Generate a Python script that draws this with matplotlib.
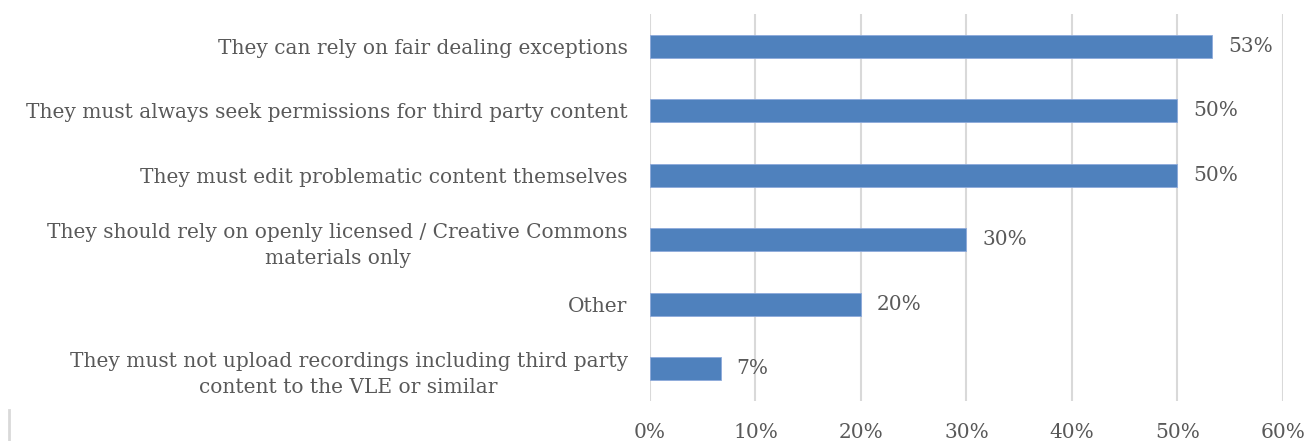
import matplotlib
matplotlib.use("Agg")
import matplotlib.pyplot as plt
from matplotlib.lines import Line2D

categories = [
    "They can rely on fair dealing exceptions",
    "They must always seek permissions for third party content",
    "They must edit problematic content themselves",
    "They should rely on openly licensed / Creative Commons\nmaterials only",
    "Other",
    "They must not upload recordings including third party\ncontent to the VLE or similar",
]
values = [53.3, 50.0, 50.0, 30.0, 20.0, 6.7]
ticks = [0, 10, 20, 30, 40, 50, 60]
tick_labels = ["0%", "10%", "20%", "30%", "40%", "50%", "60%"]

text_color = "#595959"
bar_color = "#4F81BD"
grid_color = "#D9D9D9"

plt.rcParams['font.family'] = ['DejaVu Serif']

fig = plt.figure(figsize=(13.12, 4.41), dpi=100)
ax = fig.add_axes([0.4954, 0.0907, 0.4825, 0.8773])

pos = list(range(len(categories)))
ax.barh(pos, values, height=0.36, color=bar_color, edgecolor="#8EAADB", linewidth=0.6, zorder=3)

for p, v in zip(pos, values):
    ax.text(v + 1.5, p, f"{v:.0f}%", va="center", ha="left", fontsize=14.5, color=text_color)

ax.set_xlim(0, 60)
ax.set_ylim(len(categories) - 0.5, -0.5)
ax.set_xticks(ticks)
ax.set_xticklabels(tick_labels, fontsize=14.5, color=text_color)
ax.set_yticks(pos)
ax.set_yticklabels(categories, fontsize=14.5, color=text_color,
                   multialignment="center", linespacing=1.45)
ax.tick_params(axis="both", length=0)
ax.tick_params(axis="x", pad=16)
ax.tick_params(axis="y", pad=16)

ax.grid(axis="x", color=grid_color, linewidth=1.5, zorder=0)
for s in ax.spines.values():
    s.set_visible(False)

# chart border fragment at the left edge
fig.add_artist(Line2D([0.0065, 0.0065], [0.0, 0.07], transform=fig.transFigure, color=grid_color, linewidth=2))

fig.savefig("out.png", dpi=100)
